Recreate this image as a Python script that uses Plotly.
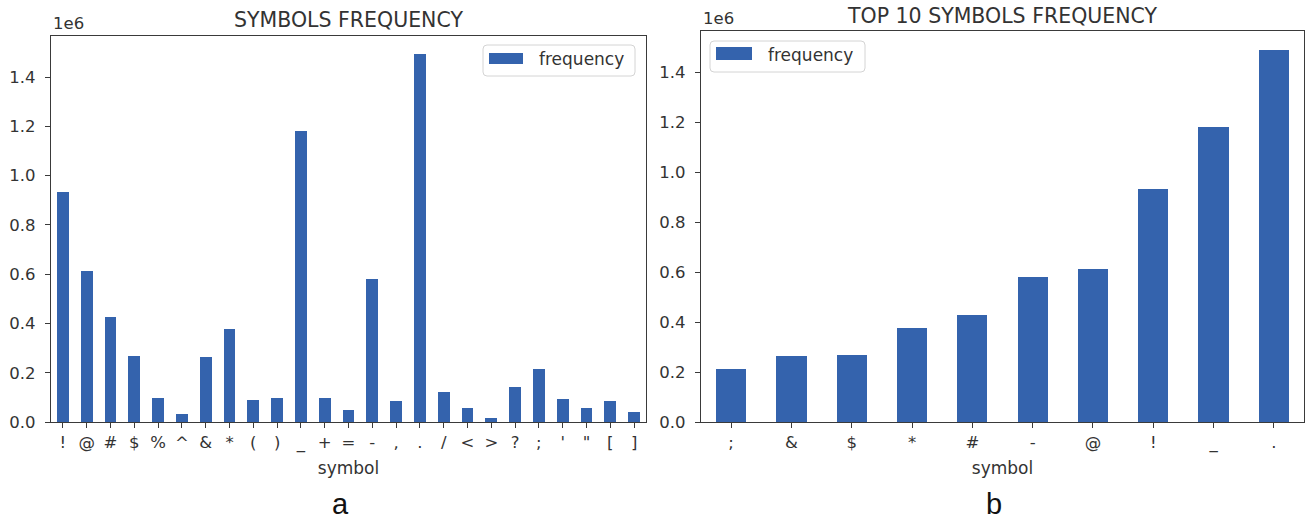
import pandas as pd
import plotly.graph_objects as go

# Symbol counts, in millions (axis carries the 1e6 offset label)
symbols = ["!", "@", "#", "$", "%", "^", "&", "*", "(", ")", "_", "+", "=",
           "-", ",", ".", "/", "<", ">", "?", ";", "'", '"', "[", "]"]
frequency = [0.935, 0.614, 0.427, 0.269, 0.099, 0.031, 0.263, 0.377, 0.090,
             0.099, 1.182, 0.099, 0.049, 0.579, 0.085, 1.492, 0.120, 0.056,
             0.015, 0.142, 0.214, 0.092, 0.056, 0.085, 0.039]

panel_titles = ["SYMBOLS FREQUENCY", "TOP 10 SYMBOLS FREQUENCY"]
panel_tags = ["a", "b"]
series_name = "frequency"
x_title = "symbol"
offset_label = "1e6"

# ten most frequent symbols, ascending
top10 = pd.Series(frequency, index=symbols).nlargest(10).sort_values()

W, H = 1311, 522
BAR = "#3463ad"
AX = "#3a3a3a"
TXT = "#333333"
FONT = "DejaVu Sans"


def fx(p):
    return p / W


def fy(p):
    return 1 - p / H


# panel boxes in pixels: (left, top, right, bottom)
boxes = [(51, 36, 646, 422), (701, 31, 1304, 422)]

fig = go.Figure()
fig.add_bar(x=symbols, y=frequency, width=0.5, marker_color=BAR,
            marker_line_width=0, xaxis="x", yaxis="y", showlegend=False,
            name=series_name)
fig.add_bar(x=list(top10.index), y=list(top10.values), width=0.5,
            marker_color=BAR, marker_line_width=0, xaxis="x2", yaxis="y2",
            showlegend=False, name=series_name)

common = dict(showline=True, mirror=True, linecolor=AX, linewidth=1.3,
              ticks="outside", ticklen=5, tickwidth=1.2, tickcolor=AX,
              showgrid=False, zeroline=False, automargin=False,
              tickfont=dict(family=FONT, size=16.5, color=TXT))

ymax = max(frequency) * 1.05
layout_axes = {}
for i, (cats, box) in enumerate([(symbols, boxes[0]), (list(top10.index), boxes[1])]):
    l, t, r, b = box
    sx = "" if i == 0 else str(i + 1)
    layout_axes["xaxis" + sx] = dict(
        common, type="category", categoryorder="array", categoryarray=cats,
        range=[-0.5, len(cats) - 0.5], domain=[fx(l), fx(r)],
        anchor="y" + sx, tickangle=0, ticklabelstandoff=0,
        title=dict(text=x_title, standoff=10,
                   font=dict(family=FONT, size=17, color=TXT)))
    layout_axes["yaxis" + sx] = dict(
        common, range=[0, ymax], domain=[fy(b), fy(t)], anchor="x" + sx,
        tickmode="linear", tick0=0, dtick=0.2, tickformat=".1f",
        ticklabelstandoff=6)

fig.update_layout(**layout_axes)

annotations = []
shapes = []
title_mid = [20, 16]
for i, (l, t, r, b) in enumerate(boxes):
    annotations.append(dict(text=offset_label, x=fx(l), y=fy(t - 1), xref="paper",
                            yref="paper", xanchor="left", yanchor="bottom",
                            showarrow=False,
                            font=dict(family=FONT, size=16.5, color=TXT)))
    annotations.append(dict(text=panel_titles[i], x=fx((l + r) / 2),
                            y=fy(title_mid[i]), xref="paper", yref="paper",
                            xanchor="center", yanchor="middle", showarrow=False,
                            font=dict(family=FONT, size=20.5, color=TXT)))
    annotations.append(dict(text=panel_tags[i], x=fx((l + r) / 2 - 8), y=fy(521),
                            xref="paper", yref="paper", xanchor="center",
                            yanchor="bottom", showarrow=False, borderpad=0,
                            font=dict(family="Liberation Sans", size=29,
                                      color="#111111")))


def rounded_box(x0, y0, x1, y1, rad):
    rx, ry = rad / W, rad / H
    a0, a1 = fx(x0), fx(x1)
    b0, b1 = fy(y0), fy(y1)  # b0 top, b1 bottom
    return (f"M {a0 + rx},{b0} L {a1 - rx},{b0} Q {a1},{b0} {a1},{b0 - ry} "
            f"L {a1},{b1 + ry} Q {a1},{b1} {a1 - rx},{b1} "
            f"L {a0 + rx},{b1} Q {a0},{b1} {a0},{b1 + ry} "
            f"L {a0},{b0 - ry} Q {a0},{b0} {a0 + rx},{b0} Z")


# legend frames: (box, patch, text-left, text-mid)
legends = [((483, 45, 635, 76), (489, 53, 523, 64), 537, 59),
           ((710, 41, 865, 72), (716, 47, 752, 60), 766, 55)]
for frame, patch, tx, ty in legends:
    shapes.append(dict(type="path", path=rounded_box(*frame, 4), xref="paper",
                       yref="paper", fillcolor="rgba(255,255,255,0.8)",
                       line=dict(color="#d4d4d4", width=1)))
    px0, py0, px1, py1 = patch
    shapes.append(dict(type="rect", x0=fx(px0), x1=fx(px1), y0=fy(py1),
                       y1=fy(py0), xref="paper", yref="paper",
                       fillcolor=BAR, line=dict(width=0)))
    annotations.append(dict(text=series_name, x=fx(tx), y=fy(ty), xref="paper",
                            yref="paper", xanchor="left", yanchor="middle",
                            showarrow=False,
                            font=dict(family=FONT, size=17, color=TXT)))

fig.update_layout(width=W, height=H, margin=dict(l=0, r=0, t=0, b=0),
                  paper_bgcolor="white", plot_bgcolor="white",
                  annotations=annotations, shapes=shapes, showlegend=False,
                  bargap=0)

fig.write_html("out.html")
